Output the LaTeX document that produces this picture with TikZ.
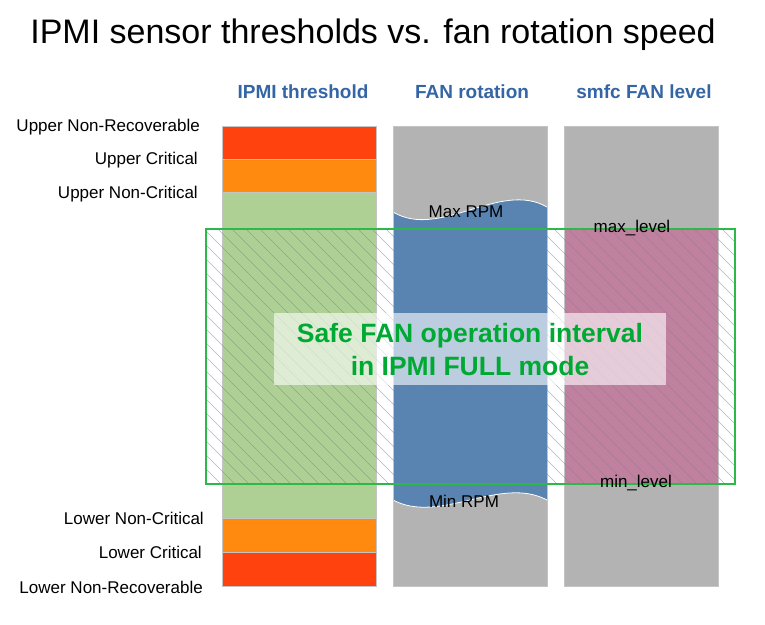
\documentclass[tikz,border=0pt]{standalone}
\usepackage{fontspec}
\setmainfont{Liberation Sans}
\definecolor{cred}{HTML}{FF420E}
\definecolor{corange}{HTML}{FF8A0F}
\definecolor{cgreen}{HTML}{AFD095}
\definecolor{cblue}{HTML}{5983B0}
\definecolor{cpink}{HTML}{BF819E}
\definecolor{cgray}{HTML}{B3B3B3}
\definecolor{cborder}{HTML}{C4C4C4}
\definecolor{chead}{HTML}{3465A4}
\definecolor{csafe}{HTML}{00A933}
\definecolor{cbox}{HTML}{2DB84A}
\definecolor{chatch}{HTML}{5F86CC}
\tikzset{
  band/.style={draw=cborder, line width=0.8pt},
  head/.style={font=\fontsize{19}{22}\selectfont\bfseries, text=chead, inner sep=0pt},
  lvl/.style={font=\fontsize{17}{20}\selectfont, inner sep=0pt, anchor=east},
  marklabel/.style={font=\fontsize{17}{20}\selectfont, inner sep=0pt},
}
\begin{document}
\begin{tikzpicture}[x=1pt,y=-1pt]
\useasboundingbox (0,0) rectangle (765,624);
\node[font=\fontsize{34}{40}\selectfont, inner sep=0pt] (title) at (373,35) {IPMI sensor thresholds vs. fan rotation speed};
\node[head] (h1) at (303,92) {IPMI threshold};
\node[head] (h2) at (472,92) {FAN rotation};
\node[head] (h3) at (644,92) {smfc FAN level};
% column 1
\fill[cred] (222,126) rectangle (376,159);
\fill[corange] (222,159) rectangle (376,192);
\fill[cgreen] (222,192) rectangle (376,518);
\fill[corange] (222,518) rectangle (376,552);
\fill[cred] (222,552) rectangle (376,586);
\draw[band] (222,126) rectangle (376,586);
\foreach \yy in {159,192,518,552} \draw[cborder, line width=0.8pt] (222,\yy) -- (376,\yy);
% column 2
\fill[cgray] (393,126) rectangle (547,586);
\fill[cblue] (393,212) .. controls (440,240) and (500,180) .. (547,207)
  -- (547,500) .. controls (500,475) and (440,525) .. (393,500) -- cycle;
\draw[white, line width=0.8pt] (393,212) .. controls (440,240) and (500,180) .. (547,207);
\draw[white, line width=0.8pt] (393,500) .. controls (440,525) and (500,475) .. (547,500);
\draw[band] (393,126) rectangle (547,586);
% column 3
\fill[cgray] (564,126) rectangle (718,586);
\fill[cpink] (564,229) rectangle (718,484);
\draw[band] (564,126) rectangle (718,586);
% hatch
\begin{scope}
\clip (206,229) rectangle (735,484);
\foreach \i in {-300,-286,...,760} \draw[chatch, opacity=0.6, line width=0.5pt] (\i,229) -- ++(280,280);
\end{scope}
\draw[cbox, line width=1.3pt] (206,229) rectangle (735,484);
% safe text box
\fill[white, opacity=0.6] (274,313) rectangle (666,385);
\node[font=\fontsize{26.5}{33}\selectfont\bfseries, text=csafe, align=center, inner sep=0pt] (safe) at (470,350) {Safe FAN operation interval\\in IPMI FULL mode};
% labels
\node[lvl] (unr) at (200,127) {Upper Non-Recoverable};
\node[lvl] (uc) at (198,160) {Upper Critical};
\node[lvl] (unc) at (198,194) {Upper Non-Critical};
\node[lvl] (lnc) at (204,518) {Lower Non-Critical};
\node[lvl] (lc) at (202,552) {Lower Critical};
\node[lvl] (lnr) at (203,587) {Lower Non-Recoverable};
\node[marklabel] (maxrpm) at (466,212) {Max RPM};
\node[marklabel] (minrpm) at (464,501) {Min RPM};
\node[marklabel] (maxl) at (632,228) {max\_level};
\node[marklabel] (minl) at (636,483) {min\_level};
\end{tikzpicture}
\end{document}
